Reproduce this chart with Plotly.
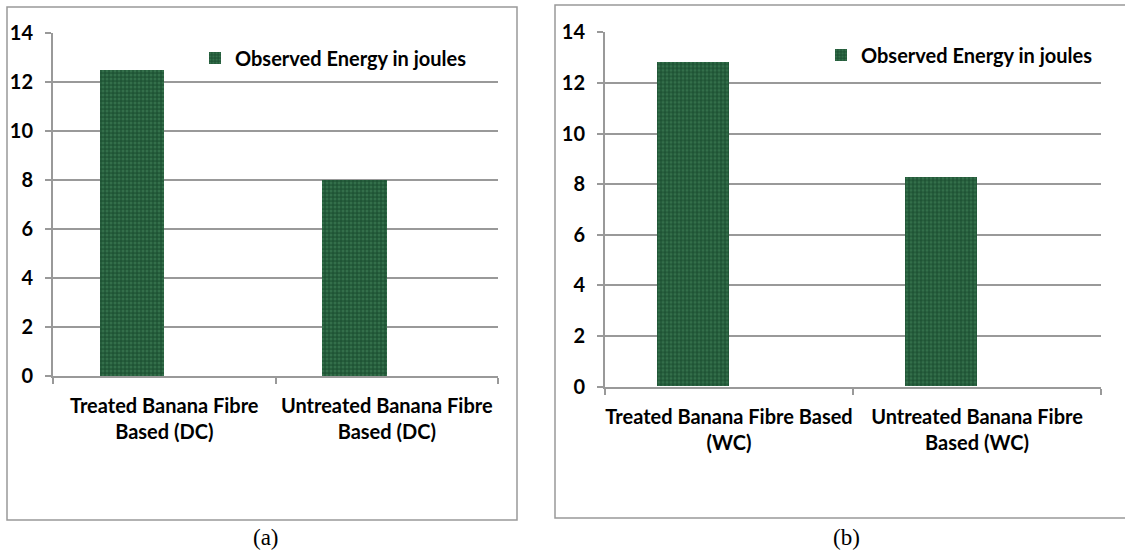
import plotly.graph_objects as go

# Observed energy (joules) for banana fibre based composites
categories_dc = ["Treated Banana Fibre<br>Based (DC)", "Untreated Banana Fibre<br>Based (DC)"]
energy_dc = [12.5, 8.0]

categories_wc = ["Treated Banana Fibre Based<br>(WC)", "Untreated Banana Fibre<br>Based (WC)"]
energy_wc = [12.8, 8.25]

series_name = "Observed Energy in joules"
panel_labels = ["(a)", "(b)"]
y_ticks = [0, 2, 4, 6, 8, 10, 12, 14]

W, H = 1125, 552
BAR_FILL = "#1f5435"
BAR_SPECK = "#336f4a"
GRID = "#999999"
TEXT_FONT = dict(family="Lato", size=20, color="#000000", weight="bold")

fig = go.Figure()

bar_style = dict(
    marker=dict(
        color=BAR_FILL,
        line=dict(width=0),
        pattern=dict(shape=".", fgcolor=BAR_SPECK, bgcolor=BAR_FILL,
                     size=4, solidity=0.45, fillmode="replace"),
    ),
    width=0.29,
    offset=-0.29,
)

fig.add_trace(go.Bar(x=categories_dc, y=energy_dc, name=series_name,
                     xaxis="x", yaxis="y", legend="legend", **bar_style))
fig.add_trace(go.Bar(x=categories_wc, y=energy_wc, name=series_name,
                     xaxis="x2", yaxis="y2", legend="legend2", **bar_style))


def px_x(v):
    return v / W


def px_y(v):
    return 1 - v / H


def x_axis(domain, anchor):
    return dict(
        domain=domain, anchor=anchor, type="category",
        showgrid=False, showline=True, linecolor=GRID, linewidth=2,
        ticks="outside", tickson="boundaries", ticklen=6, tickwidth=2,
        tickcolor=GRID, tickfont=TEXT_FONT, ticklabelstandoff=11,
        tickangle=0, automargin=False,
        zeroline=False, fixedrange=True,
    )


def y_axis(domain, anchor):
    return dict(
        domain=domain, anchor=anchor, range=[0, 14],
        tickmode="array", tickvals=y_ticks,
        showgrid=True, gridcolor=GRID, gridwidth=2,
        showline=True, linecolor=GRID, linewidth=2,
        ticks="outside", ticklen=6, tickwidth=2, tickcolor=GRID,
        tickfont=TEXT_FONT, ticklabelstandoff=8, automargin=False,
        zeroline=False, fixedrange=True,
    )


legend_style = dict(
    font=TEXT_FONT, bgcolor="rgba(0,0,0,0)", borderwidth=0,
    xanchor="left", yanchor="middle", itemclick=False,
)

fig.update_layout(
    width=W, height=H,
    margin=dict(l=0, r=0, t=0, b=0),
    paper_bgcolor="#ffffff", plot_bgcolor="#ffffff",
    xaxis=x_axis([px_x(53), px_x(498)], "y"),
    yaxis=y_axis([px_y(376), px_y(33)], "x"),
    xaxis2=x_axis([px_x(605), px_x(1101)], "y2"),
    yaxis2=y_axis([px_y(386.5), px_y(32.3)], "x2"),
    legend=dict(x=px_x(195), y=px_y(58), **legend_style),
    legend2=dict(x=px_x(821), y=px_y(55), **legend_style),
    shapes=[
        dict(type="rect", xref="paper", yref="paper",
             x0=px_x(7), x1=px_x(517), y0=px_y(520), y1=px_y(7),
             line=dict(color=GRID, width=1.5), layer="below"),
        dict(type="rect", xref="paper", yref="paper",
             x0=px_x(555), x1=px_x(1135), y0=px_y(518), y1=px_y(5),
             line=dict(color=GRID, width=1.5), layer="below"),
    ],
    annotations=[
        dict(text=panel_labels[0], xref="paper", yref="paper",
             x=px_x(266), y=px_y(537), xanchor="center", yanchor="middle",
             showarrow=False,
             font=dict(family="Liberation Serif", size=23, color="#000000")),
        dict(text=panel_labels[1], xref="paper", yref="paper",
             x=px_x(846), y=px_y(537), xanchor="center", yanchor="middle",
             showarrow=False,
             font=dict(family="Liberation Serif", size=23, color="#000000")),
    ],
    bargap=0,
    showlegend=True,
)

fig.write_html("out.html")
